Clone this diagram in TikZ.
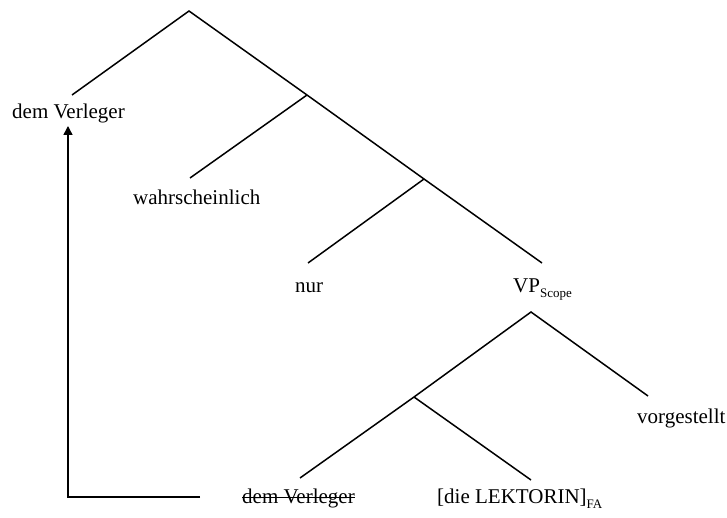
\documentclass[tikz,border=0pt]{standalone}
\usepackage{fontspec}
\setmainfont{Liberation Serif}
\usetikzlibrary{arrows.meta}
\newcommand{\lowsub}[1]{\raisebox{-0.2\baselineskip}{\fontsize{13}{13}\selectfont #1}}
\begin{document}
\begin{tikzpicture}[x=1pt,y=-1pt,
  label/.style={anchor=base west,inner sep=0pt,font=\fontsize{21}{25}\selectfont},
  branch/.style={line width=1.5pt},
  strike/.style={line width=1pt},
  movement/.style={line width=1.5pt,-{Triangle[width=9pt,length=9pt]}}]
\useasboundingbox (0,0) rectangle (727,518);

% branching points
\coordinate (root) at (189,11);
\coordinate (n1) at (307,95);
\coordinate (n2) at (424,179);
\coordinate (vp) at (531,312);
\coordinate (n3) at (414,397);

% lower ends of the branches
\coordinate (eDem) at (72,95);
\coordinate (eWahr) at (190,178);
\coordinate (eNur) at (308,263);
\coordinate (eVP) at (542,263);
\coordinate (eTrace) at (300,478);
\coordinate (eLek) at (531,480);
\coordinate (eVorg) at (648,396);

% leaves
\node[label] (dem) at (12,119) {dem Verleger};
\node[label] (wahr) at (133,205) {wahrscheinlich};
\node[label] (nur) at (295,292) {nur};
\node[label] (vplab) at (513,292) {VP\lowsub{Scope}};
\node[label] (vorg) at (637,423) {vorgestellt};
\node[label] (trace) at (242,503) {dem Verleger};
\node[label] (lek) at (437,503) {[die LEKTORIN]\lowsub{FA}};

% struck-through trace
\draw[strike] ([yshift=6pt]trace.base west) -- ([yshift=6pt]trace.base east);

% upper tree
\draw[branch] (eDem) -- (root) -- (n1) -- (n2) -- (eVP);
\draw[branch] (n1) -- (eWahr);
\draw[branch] (n2) -- (eNur);

% lower tree
\draw[branch] (eTrace) -- (n3) -- (vp) -- (eVorg);
\draw[branch] (n3) -- (eLek);

% movement arrow
\coordinate (mStart) at (200,497);
\coordinate (mCorner) at (68,497);
\coordinate (mTip) at (68,126);
\draw[movement] (mStart) -- (mCorner) -- (mTip);
\end{tikzpicture}
\end{document}
